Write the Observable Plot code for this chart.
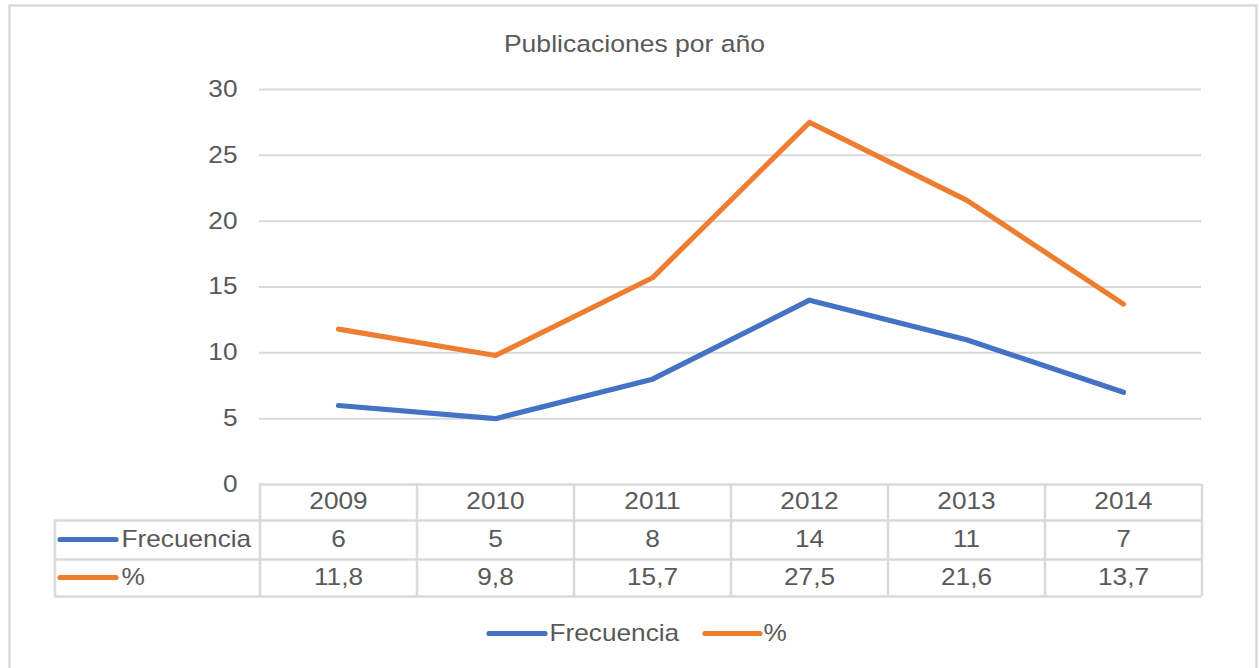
<!DOCTYPE html>
<html>
<head>
<meta charset="utf-8">
<script src="https://cdn.jsdelivr.net/npm/d3@7"></script>
<script src="https://cdn.jsdelivr.net/npm/@observablehq/plot@0.6"></script>
<style>
  html, body { margin: 0; padding: 0; background: #fff; }
  #chart { position: absolute; left: 0; top: 0; }
</style>
</head>
<body>
<div id="chart"></div>
<script>
// ---- data ----
const title = "Publicaciones por año";
const years = ["2009", "2010", "2011", "2012", "2013", "2014"];
const frecuencia = [6, 5, 8, 14, 11, 7];
const porcentaje = [11.8, 9.8, 15.7, 27.5, 21.6, 13.7];
const seriesNames = ["Frecuencia", "%"];
const yTicks = [0, 5, 10, 15, 20, 25, 30];

// ---- derived tables ----
const freqData = years.map((y, i) => ({year: y, value: frecuencia[i]}));
const pctData = years.map((y, i) => ({year: y, value: porcentaje[i]}));
const fmt = v => v.toFixed(1).replace(".", ",");

// ---- layout / style ----
const W = 1259, H = 668;
const mL = 259, mR = 58, mT = 89, mB = 184;
const half = (W - mL - mR) / years.length / 2;
const BLUE = "#4472C4", ORANGE = "#ED7D31", GRID = "#d9d9d9", TXT = "#595959";
const FS = 23;
const LW = 5.2;
const rowHead = 17, rowFreq = 55, rowPct = 93, rowLegend = 149;
const lineHead = 36, lineFreq = 75, linePct = 112;
const T = {fill: TXT, fontSize: FS, lineAnchor: "middle"};

const chart = Plot.plot({
  width: W,
  height: H,
  marginLeft: mL,
  marginRight: mR,
  marginTop: mT,
  marginBottom: mB,
  style: {fontFamily: "'Liberation Sans', Arial, sans-serif", fontSize: FS + "px", color: TXT, background: "#fff", overflow: "hidden"},
  x: {type: "point", domain: years, padding: 0.5, axis: null},
  y: {domain: [0, 30], axis: null},
  marks: [
    // outer chart border
    Plot.frame({stroke: GRID, strokeWidth: 2.5, insetLeft: -250, insetTop: -84, insetRight: -55, insetBottom: -200}),
    // gridlines
    Plot.ruleY(yTicks.filter(d => d > 0), {stroke: GRID, strokeWidth: 2}),
    // y axis labels
    Plot.axisY(yTicks, {tickSize: 0, tickPadding: 22, fontSize: FS, fill: TXT, label: null}),
    // title
    Plot.text([title], {...T, frameAnchor: "top-left", dx: 634 - mL, dy: -44.5, textAnchor: "middle", fontSize: 23.3}),
    // lines
    Plot.line(freqData, {x: "year", y: "value", stroke: BLUE, strokeWidth: LW, strokeLinecap: "round", strokeLinejoin: "round"}),
    Plot.line(pctData, {x: "year", y: "value", stroke: ORANGE, strokeWidth: LW, strokeLinecap: "round", strokeLinejoin: "round"}),

    // ---- data table ----
    Plot.ruleY([0], {stroke: GRID, strokeWidth: 2.5}),
    Plot.ruleY([0], {dy: lineHead, stroke: GRID, strokeWidth: 2.5, insetLeft: -205}),
    Plot.ruleY([0], {dy: lineFreq, stroke: GRID, strokeWidth: 2.5, insetLeft: -205}),
    Plot.ruleY([0], {dy: linePct, stroke: GRID, strokeWidth: 2.5, insetLeft: -205}),
    Plot.ruleX(years, {x: d => d, dx: -half, stroke: GRID, strokeWidth: 2.5, insetTop: H - mT - mB, insetBottom: -linePct}),
    Plot.ruleX([years[years.length - 1]], {x: d => d, dx: half, stroke: GRID, strokeWidth: 2.5, insetTop: H - mT - mB, insetBottom: -linePct}),
    Plot.ruleX([years[0]], {x: d => d, dx: -half - 205, stroke: GRID, strokeWidth: 2.5, insetTop: H - mT - mB + lineHead, insetBottom: -linePct}),
    // header row
    Plot.text(years, {...T, x: d => d, frameAnchor: "bottom", dy: rowHead}),
    // values
    Plot.text(freqData, {...T, x: "year", text: d => String(d.value), frameAnchor: "bottom", dy: rowFreq}),
    Plot.text(pctData, {...T, x: "year", text: d => fmt(d.value), frameAnchor: "bottom", dy: rowPct}),
    // row labels with swatches
    Plot.ruleY([0], {dy: rowFreq, stroke: BLUE, strokeWidth: LW, strokeLinecap: "round", insetLeft: 60 - mL, insetRight: (W - mR) - 116}),
    Plot.ruleY([0], {dy: rowPct, stroke: ORANGE, strokeWidth: LW, strokeLinecap: "round", insetLeft: 60 - mL, insetRight: (W - mR) - 116}),
    Plot.text([seriesNames[0]], {...T, frameAnchor: "bottom-left", dx: 121 - mL, dy: rowFreq, textAnchor: "start"}),
    Plot.text([seriesNames[1]], {...T, frameAnchor: "bottom-left", dx: 121 - mL, dy: rowPct, textAnchor: "start"}),

    // ---- legend ----
    Plot.ruleY([0], {dy: rowLegend, stroke: BLUE, strokeWidth: LW, strokeLinecap: "round", insetLeft: 489 - mL, insetRight: (W - mR) - 545}),
    Plot.text([seriesNames[0]], {...T, frameAnchor: "bottom-left", dx: 549 - mL, dy: rowLegend, textAnchor: "start"}),
    Plot.ruleY([0], {dy: rowLegend, stroke: ORANGE, strokeWidth: LW, strokeLinecap: "round", insetLeft: 705 - mL, insetRight: (W - mR) - 760}),
    Plot.text([seriesNames[1]], {...T, frameAnchor: "bottom-left", dx: 763 - mL, dy: rowLegend, textAnchor: "start"})
  ]
});

// glyphs in the reference are horizontally stretched; widen text around its anchor
chart.querySelectorAll("text").forEach(t => {
  const tr = t.getAttribute("transform") || "";
  t.setAttribute("transform", (tr + " scale(1.14,1)").trim());
});

document.getElementById("chart").appendChild(chart);
</script>
</body>
</html>
